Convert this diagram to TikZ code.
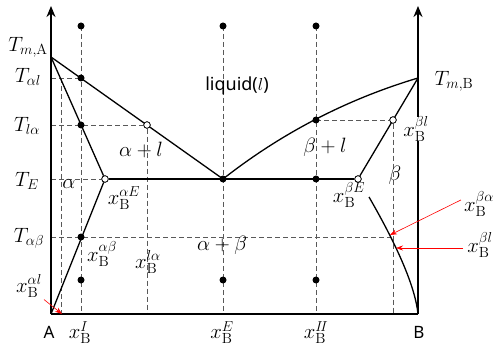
\documentclass[tikz,border=0pt]{standalone}
\usepackage{fontspec}
\newfontfamily\sansf{Noto Sans}
\usetikzlibrary{arrows.meta}
\begin{document}
\begin{tikzpicture}[x=1pt,y=-1pt,
  every node/.style={font=\fontsize{21}{24}\selectfont, inner sep=0pt},
  sanslbl/.style={font=\sansf\fontsize{17}{20}\selectfont},
  axis/.style={line width=2.4pt},
  phase/.style={line width=1.3pt},
  guide/.style={dash pattern=on 5pt off 3pt, draw=black!65, line width=0.7pt},
  dot/.style={circle, fill=black, minimum size=7pt, inner sep=0pt},
  odot/.style={circle, draw=black, fill=white, line width=0.7pt, minimum size=6.5pt, inner sep=0pt},
  redarrow/.style={red, line width=0.6pt, -{Stealth[length=7pt,width=5pt]}}
]
\useasboundingbox (0,0) rectangle (497,347);

% key coordinates
\coordinate (A0) at (51,314);
\coordinate (B0) at (418,314);
\coordinate (Atop) at (51,6);
\coordinate (Btop) at (418,6);
\coordinate (TmA) at (51,57);
\coordinate (TmB) at (418,78);
\coordinate (Yal) at (51,78);
\coordinate (Yla) at (51,125);
\coordinate (YE) at (51,179);
\coordinate (Yab) at (51,237);
\coordinate (g1top) at (61,78);
\coordinate (g1bot) at (61,314);
\coordinate (g2bot) at (81,314);
\coordinate (g3bot) at (147,314);
\coordinate (g4bot) at (223,314);
\coordinate (g5bot) at (316,314);
\coordinate (g6bot) at (393,314);
\coordinate (abend) at (391,237);
\coordinate (solvB) at (369,197);

% points on phase boundaries
\node[odot] (aE) at (105,179) {};
\node[odot] (bE) at (358,179) {};
\node[odot] (la) at (147,125) {};
\node[odot] (bl) at (393,120) {};

% dashed guide lines
\draw[guide] (Yal) -- (81,78);
\draw[guide] (g1top) -- (g1bot);
\draw[guide] (81,26) -- (g2bot);
\draw[guide] (Yla) -- (la);
\draw[guide] (la) -- (g3bot);
\draw[guide] (YE) -- (aE);
\draw[guide] (Yab) -- (abend);
\draw[guide] (223,26) -- (g4bot);
\draw[guide] (316,26) -- (g5bot);
\draw[guide] (316,120) -- (bl);
\draw[guide] (bl) -- (g6bot);

% phase boundaries
\draw[phase] (TmA) -- (223,179);
\draw[phase] (TmA) -- (aE);
\draw[phase] (aE) -- (A0);
\draw[phase] (aE) -- (bE);
\draw[phase] (223,179) .. controls (281.7,133) and (346.7,99.3) .. (TmB);
\draw[phase] (TmB) -- (bE);
\draw[phase] (solvB) .. controls (399,249) and (415.3,288) .. (B0);

% axes
\draw[axis, -{Stealth[length=11pt,width=9pt]}] (A0) -- (Atop);
\draw[axis, -{Stealth[length=11pt,width=9pt]}] (B0) -- (Btop);
\draw[axis] (A0) -- (B0);

% redraw open circles on top
\node[odot] at (aE) {};
\node[odot] at (bE) {};
\node[odot] at (la) {};
\node[odot] at (bl) {};

% dots
\foreach \p/\n in {{(81,26)}/d1,{(81,78)}/d2,{(81,125)}/d3,{(81,237)}/d4,{(81,280)}/d5,
  {(223,26)}/d6,{(223,179)}/d7,{(223,280)}/d8,
  {(316,26)}/d9,{(316,120)}/d10,{(316,179)}/d11,{(316,280)}/d12}
  \node[dot] (\n) at \p {};

% labels
\node (lTmA) at (28,47) {$T_{m,\mathrm{A}}$};
\node (lTal) at (28,77) {$T_{\alpha l}$};
\node (lTla) at (27,126) {$T_{l\alpha}$};
\node (lTE) at (27,181) {$T_E$};
\node (lTab) at (29,238) {$T_{\alpha\beta}$};
\node (lxal) at (29,286) {$x_{\mathrm{B}}^{\alpha l}$};
\node[sanslbl] (lA) at (49,332) {A};
\node[anchor=south] (lxI) at (80,344) {$x_{\mathrm{B}}^{I}$};
\node (lxab) at (102,254) {$x_{\mathrm{B}}^{\alpha\beta}$};
\node (lxla) at (148,262) {$x_{\mathrm{B}}^{l\alpha}$};
\node (lxaE) at (124,198) {$x_{\mathrm{B}}^{\alpha E}$};
\node (lalpha) at (69,184) {$\alpha$};
\node (lal) at (141,150) {$\alpha+l$};
\node[font=\sansf\fontsize{18}{21}\selectfont] (lliq) at (237,86) {liquid($l$)};
\node (lab) at (222,245) {$\alpha+\beta$};
\node[anchor=south] (lxE) at (222,344) {$x_{\mathrm{B}}^{E}$};
\node[anchor=south] (lxII) at (316,344) {$x_{\mathrm{B}}^{I\!I}$};
\node (lbl) at (325,147) {$\beta+l$};
\node (lbeta) at (395,175) {$\beta$};
\node (lxbE) at (349,195) {$x_{\mathrm{B}}^{\beta E}$};
\node[fill=white] (lxbl1) at (416,129) {$x_{\mathrm{B}}^{\beta l}$};
\node (lTmB) at (454,81) {$T_{m,\mathrm{B}}$};
\node[sanslbl] (lB) at (419,332) {B};
\node (lxba) at (479,204) {$x_{\mathrm{B}}^{\beta\alpha}$};
\node (lxbl2) at (480,245) {$x_{\mathrm{B}}^{\beta l}$};

% red arrows
\coordinate (r1) at (390,235);
\coordinate (r2) at (396,248);
\coordinate (r3) at (62,314);
\draw[redarrow] ([xshift=-3pt,yshift=4pt]lxba.west) -- (r1);
\draw[redarrow] ([xshift=-4pt,yshift=-3pt]lxbl2.west) -- (r2);
\draw[redarrow] ([xshift=2pt,yshift=-2pt]lxal.south east) -- (r3);
\end{tikzpicture}
\end{document}
